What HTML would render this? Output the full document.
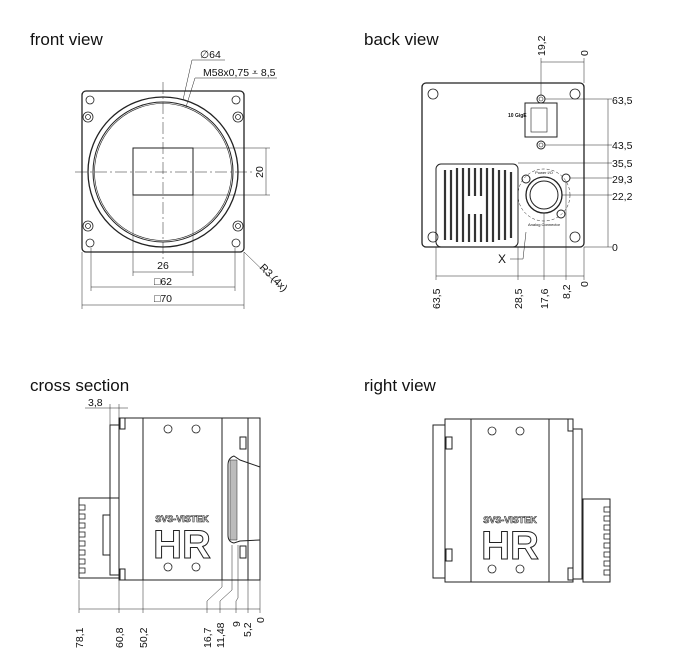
<!DOCTYPE html>
<html><head><meta charset="utf-8"><style>
html,body{margin:0;padding:0;background:#fff}
svg{display:block}
text{font-family:"Liberation Sans",sans-serif;fill:#111}
.t{font-size:17px}
.d{font-size:10.5px}
</style></head><body>
<svg width="679" height="657" viewBox="0 0 679 657" xmlns="http://www.w3.org/2000/svg">
<g fill="none" stroke="#222" stroke-width="1">
<!-- FRONT VIEW -->
<rect x="82" y="91" width="162" height="161" rx="4" stroke-width="1.3"/>
<circle cx="163" cy="172" r="75" stroke-width="1.3"/>
<circle cx="163" cy="172" r="70"/>
<circle cx="163" cy="172" r="68.5" stroke-width="0.6"/>
<rect x="133" y="148" width="60" height="47"/>
<g stroke-width="0.5" stroke-dasharray="12,3,2,3"><line x1="163" y1="82" x2="163" y2="262"/><line x1="75" y1="172" x2="255" y2="172"/></g>
<g stroke-width="0.8">
<circle cx="90" cy="100" r="4"/><circle cx="236" cy="100" r="4"/><circle cx="90" cy="243" r="4"/><circle cx="236" cy="243" r="4"/>
<circle cx="88" cy="117" r="5"/><circle cx="238" cy="117" r="5"/><circle cx="88" cy="226" r="5"/><circle cx="238" cy="226" r="5"/>
<circle cx="88" cy="117" r="2.5"/><circle cx="238" cy="117" r="2.5"/><circle cx="88" cy="226" r="2.5"/><circle cx="238" cy="226" r="2.5"/>
</g>
<g stroke-width="0.5">
<line x1="193" y1="148" x2="270" y2="148"/><line x1="193" y1="195" x2="270" y2="195"/><line x1="266" y1="148" x2="266" y2="195"/>
<line x1="133" y1="195" x2="133" y2="276"/><line x1="193" y1="195" x2="193" y2="276"/><line x1="133" y1="272" x2="193" y2="272"/>
<line x1="91" y1="248" x2="91" y2="291"/><line x1="235" y1="248" x2="235" y2="291"/><line x1="91" y1="287" x2="235" y2="287"/>
<line x1="82" y1="252" x2="82" y2="309"/><line x1="244" y1="252" x2="244" y2="309"/><line x1="82" y1="305" x2="244" y2="305"/>
<polyline points="183,100 192,60 225,60"/><polyline points="186,107 195,78 277,78"/>
<line x1="244" y1="252" x2="279" y2="286"/>
</g>
<!-- BACK VIEW -->
<rect x="422" y="83" width="162" height="164" rx="4" stroke-width="1.3"/>
<rect x="525" y="103" width="32" height="34"/>
<rect x="531" y="108" width="16" height="24" stroke-width="0.6"/>
<circle cx="541" cy="99" r="4"/><circle cx="541" cy="145" r="4"/><circle cx="541" cy="99" r="2" stroke-width="0.6"/><circle cx="541" cy="145" r="2" stroke-width="0.6"/>
<rect x="436" y="164" width="82" height="83" rx="5"/>
<g stroke-width="2.2" stroke="#333">
<line x1="445" y1="170" x2="445" y2="240"/><line x1="451" y1="170" x2="451" y2="240"/><line x1="457" y1="168" x2="457" y2="242"/><line x1="463" y1="168" x2="463" y2="242"/><line x1="469" y1="168" x2="469" y2="196"/><line x1="475" y1="168" x2="475" y2="196"/><line x1="481" y1="168" x2="481" y2="196"/><line x1="469" y1="214" x2="469" y2="242"/><line x1="475" y1="214" x2="475" y2="242"/><line x1="481" y1="214" x2="481" y2="242"/><line x1="487" y1="168" x2="487" y2="242"/><line x1="493" y1="168" x2="493" y2="242"/><line x1="499" y1="170" x2="499" y2="240"/><line x1="505" y1="170" x2="505" y2="240"/><line x1="511" y1="172" x2="511" y2="238"/>
</g>
<circle cx="544" cy="195" r="26" stroke-width="0.5" stroke-dasharray="3,2"/>
<circle cx="544" cy="195" r="18" stroke-width="1.3"/>
<circle cx="544" cy="195" r="14"/>
<circle cx="566" cy="178" r="4"/><circle cx="526" cy="179" r="4"/><circle cx="561" cy="214" r="4"/>
<g stroke-width="0.8">
<circle cx="433" cy="94" r="5"/><circle cx="575" cy="94" r="5"/><circle cx="433" cy="237" r="5"/><circle cx="575" cy="237" r="5"/>
</g>
<g stroke-width="0.5">
<line x1="541" y1="58" x2="541" y2="95"/><line x1="584" y1="58" x2="584" y2="83"/><line x1="541" y1="62" x2="584" y2="62"/>
<line x1="545" y1="99" x2="612" y2="99"/><line x1="545" y1="145" x2="612" y2="145"/><line x1="518" y1="163" x2="612" y2="163"/><line x1="570" y1="178" x2="612" y2="178"/><line x1="562" y1="195" x2="612" y2="195"/><line x1="584" y1="247" x2="612" y2="247"/>
<line x1="608" y1="99" x2="608" y2="247"/>
<line x1="436" y1="247" x2="436" y2="280"/><line x1="518" y1="247" x2="518" y2="280"/><line x1="544" y1="213" x2="544" y2="280"/><line x1="566" y1="182" x2="566" y2="280"/><line x1="584" y1="247" x2="584" y2="280"/>
<line x1="436" y1="276" x2="584" y2="276"/>
<polyline points="510,259 523,259 526,232"/>
</g>
<!-- CROSS SECTION -->
<rect x="119" y="418" width="141" height="162"/>
<line x1="143" y1="418" x2="143" y2="580"/><line x1="222" y1="418" x2="222" y2="580"/><line x1="248" y1="418" x2="248" y2="580"/>
<rect x="79" y="498" width="40" height="80"/>
<rect x="110" y="425" width="9" height="150"/>
<rect x="120" y="418" width="5" height="11"/><rect x="120" y="569" width="5" height="11"/>
<rect x="103" y="515" width="7" height="40"/>
<g stroke-width="0.8"><rect x="79" y="505" width="6" height="5"/><rect x="79" y="514" width="6" height="5"/><rect x="79" y="523" width="6" height="5"/><rect x="79" y="532" width="6" height="5"/><rect x="79" y="541" width="6" height="5"/><rect x="79" y="550" width="6" height="5"/><rect x="79" y="559" width="6" height="5"/><rect x="79" y="568" width="6" height="5"/></g>
<rect x="240" y="437" width="6" height="12"/><rect x="240" y="546" width="6" height="12"/>
<path d="M260,467 L240,460 L234,456 Q228,458 228,465 L228,535 Q228,542 234,543 L240,541 L260,540" />
<path d="M230,460 L237,460 L237,540 L230,540 Z" fill="#bbb" stroke-width="0.5"/>
<g stroke-width="0.8"><circle cx="168" cy="429" r="4"/><circle cx="196" cy="429" r="4"/><circle cx="168" cy="567" r="4"/><circle cx="196" cy="567" r="4"/></g>
<g stroke-width="0.5">
<line x1="79" y1="580" x2="79" y2="613"/><line x1="119" y1="580" x2="119" y2="613"/><line x1="143" y1="580" x2="143" y2="613"/><line x1="260" y1="580" x2="260" y2="613"/>
<polyline points="222,580 222,587 207,601 207,613"/><polyline points="232,545 232,590 220,601 220,613"/><polyline points="238,545 238,598 236,601 236,613"/><line x1="248" y1="580" x2="248" y2="613"/>
<line x1="79" y1="609" x2="260" y2="609"/>
<line x1="110" y1="404" x2="110" y2="425"/><line x1="119" y1="404" x2="119" y2="418"/><line x1="85" y1="408" x2="128" y2="408"/>
</g>
<!-- RIGHT VIEW -->
<rect x="445" y="419" width="128" height="163"/>
<line x1="471" y1="419" x2="471" y2="582"/><line x1="549" y1="419" x2="549" y2="582"/>
<polyline points="445,425 433,425 433,578 445,578"/>
<rect x="446" y="437" width="6" height="12"/><rect x="446" y="549" width="6" height="12"/>
<rect x="568" y="419" width="5" height="12"/><rect x="568" y="568" width="5" height="12"/>
<rect x="573" y="429" width="9" height="150"/>
<rect x="583" y="499" width="27" height="83"/>
<g stroke-width="0.8"><circle cx="492" cy="431" r="4"/><circle cx="520" cy="431" r="4"/><circle cx="492" cy="569" r="4"/><circle cx="520" cy="569" r="4"/></g>
<g stroke-width="0.8"><rect x="604" y="507" width="6" height="5"/><rect x="604" y="516" width="6" height="5"/><rect x="604" y="525" width="6" height="5"/><rect x="604" y="534" width="6" height="5"/><rect x="604" y="543" width="6" height="5"/><rect x="604" y="552" width="6" height="5"/><rect x="604" y="561" width="6" height="5"/><rect x="604" y="570" width="6" height="5"/></g>
</g>
<!-- HR logos -->
<g font-weight="bold">
<text x="182" y="522" font-size="9" text-anchor="middle" style="fill:#fff;stroke:#222;stroke-width:0.6">SVS-VISTEK</text>
<text x="182" y="558" font-size="40" text-anchor="middle" style="fill:#fff;stroke:#222;stroke-width:1">HR</text>
<text x="510" y="523" font-size="9" text-anchor="middle" style="fill:#fff;stroke:#222;stroke-width:0.6">SVS-VISTEK</text>
<text x="510" y="559" font-size="40" text-anchor="middle" style="fill:#fff;stroke:#222;stroke-width:1">HR</text>
</g>
<!-- titles -->
<text class="t" x="30" y="45">front view</text>
<text class="t" x="364" y="45">back view</text>
<text class="t" x="30" y="391">cross section</text>
<text class="t" x="364" y="391">right view</text>
<!-- front dims -->
<text class="d" x="200" y="58">∅64</text>
<text class="d" x="203" y="76">M58x0,75 ⩡ 8,5</text>
<text class="d" transform="translate(263,172) rotate(-90)" text-anchor="middle">20</text>
<text class="d" x="163" y="269" text-anchor="middle">26</text>
<text class="d" x="163" y="285" text-anchor="middle">□62</text>
<text class="d" x="163" y="302" text-anchor="middle">□70</text>
<text class="d" transform="translate(259,268) rotate(45)">R3 (4x)</text>
<!-- back dims -->
<text class="d" transform="translate(545,56) rotate(-90)">19,2</text>
<text class="d" transform="translate(588,56) rotate(-90)">0</text>
<text class="d" x="612" y="104">63,5</text>
<text class="d" x="612" y="149">43,5</text>
<text class="d" x="612" y="167">35,5</text>
<text class="d" x="612" y="183">29,3</text>
<text class="d" x="612" y="200">22,2</text>
<text class="d" x="612" y="251">0</text>
<text class="d" transform="translate(440,309) rotate(-90)">63,5</text>
<text class="d" transform="translate(522,309) rotate(-90)">28,5</text>
<text class="d" transform="translate(548,309) rotate(-90)">17,6</text>
<text class="d" transform="translate(570,299) rotate(-90)">8,2</text>
<text class="d" transform="translate(588,287) rotate(-90)">0</text>
<text x="498" y="263" font-size="12">X</text>
<text x="508" y="117" font-size="5" font-weight="bold">10 GigE</text>
<text x="544" y="174" font-size="4" text-anchor="middle">Power I/O</text>
<text x="544" y="226" font-size="4" text-anchor="middle">Analog Connector</text>
<!-- cross dims -->
<text class="d" x="88" y="406">3,8</text>
<text class="d" transform="translate(83,648) rotate(-90)">78,1</text>
<text class="d" transform="translate(123,648) rotate(-90)">60,8</text>
<text class="d" transform="translate(147,648) rotate(-90)">50,2</text>
<text class="d" transform="translate(211,648) rotate(-90)">16,7</text>
<text class="d" transform="translate(224,648) rotate(-90)">11,48</text>
<text class="d" transform="translate(240,627) rotate(-90)">9</text>
<text class="d" transform="translate(251,637) rotate(-90)">5,2</text>
<text class="d" transform="translate(264,623) rotate(-90)">0</text>
</svg>
</body></html>
